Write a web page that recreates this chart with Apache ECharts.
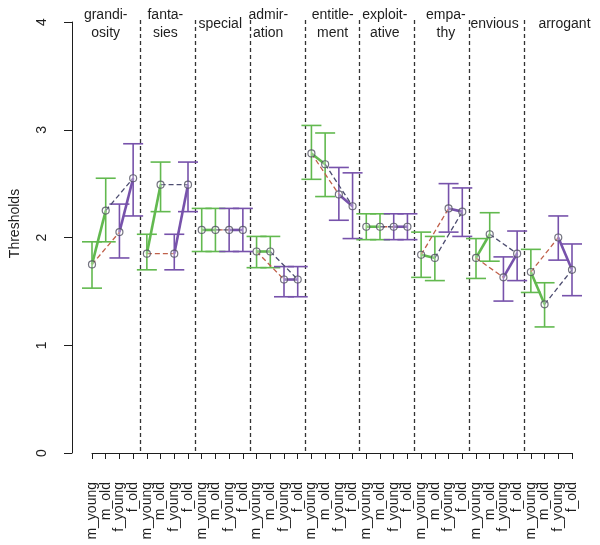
<!DOCTYPE html>
<html>
<head>
<meta charset="utf-8">
<script src="https://cdn.jsdelivr.net/npm/echarts@6/dist/echarts.min.js"></script>
<style>
  html, body { margin: 0; padding: 0; background: #fff; }
  #chart { width: 600px; height: 545px; }
</style>
</head>
<body>
<div id="chart"></div>
<script>
// panels (items) and conditions inside each panel
const groupLabels = ["grandi-\nosity", "fanta-\nsies", "special", "admir-\nation", "entitle-\nment", "exploit-\native", "empa-\nthy", "envious", "arrogant"]
const conditions = ["m_young", "m_old", "f_young", "f_old"]
const yTicks = [0, 1, 2, 3, 4]

// threshold estimates
const mYoung = [1.75, 1.85, 2.07, 1.87, 2.78, 2.10, 1.84, 1.81, 1.68]
const mOld = [2.25, 2.49, 2.07, 1.87, 2.68, 2.10, 1.81, 2.03, 1.38]
const fYoung = [2.05, 1.85, 2.07, 1.61, 2.40, 2.10, 2.27, 1.63, 2.00]
const fOld = [2.55, 2.49, 2.07, 1.61, 2.29, 2.10, 2.24, 1.85, 1.70]

// error bar limits
const mYoungLo = [1.53, 1.70, 1.87, 1.72, 2.54, 1.98, 1.63, 1.62, 1.49]
const mYoungHi = [1.96, 2.03, 2.27, 2.01, 3.04, 2.22, 2.05, 1.99, 1.89]
const mOldLo = [1.96, 2.24, 1.87, 1.72, 2.38, 1.98, 1.60, 1.78, 1.17]
const mOldHi = [2.55, 2.70, 2.27, 2.01, 2.97, 2.22, 2.01, 2.23, 1.58]
const fYoungLo = [1.81, 1.70, 1.87, 1.45, 2.16, 1.98, 2.05, 1.41, 1.79]
const fYoungHi = [2.31, 2.03, 2.27, 1.73, 2.65, 2.22, 2.50, 1.82, 2.20]
const fOldLo = [2.20, 2.24, 1.87, 1.45, 1.99, 1.98, 2.01, 1.60, 1.46]
const fOldHi = [2.87, 2.70, 2.27, 1.73, 2.60, 2.22, 2.46, 2.06, 1.94]

// small horizontal shifts of the panel titles (in category units)
const labelNudge = [-0.5, -0.15, -0.15, -0.65, 0.05, -0.15, 0.3, -0.15, 0.95]

const GREEN = "#62b94f"
const PURPLE = "#7752ab"
const RED = "#c0604a"
const DARK = "#4c4c70"
const INK = "#1e1e1e"

const categories = groupLabels.flatMap(() => conditions)
const values = [mYoung, mOld, fYoung, fOld]
const lows = [mYoungLo, mOldLo, fYoungLo, fOldLo]
const highs = [mYoungHi, mOldHi, fYoungHi, fOldHi]
const idx = (g, c) => g * 4 + c

const errorData = []
const pointData = []
groupLabels.forEach((_, g) => {
  conditions.forEach((_, c) => {
    errorData.push([idx(g, c), lows[c][g], highs[c][g], c < 2 ? 0 : 1])
    pointData.push([idx(g, c), values[c][g]])
  })
})

const segments = (ca, cb) =>
  groupLabels.map((_, g) => [idx(g, ca), values[ca][g], idx(g, cb), values[cb][g]])

const segmentSeries = (data, color, width, dashed, z) => ({
  type: "custom",
  clip: false,
  z: z,
  encode: { x: [0, 2], y: [1, 3] },
  data: data,
  renderItem: (params, api) => {
    const a = api.coord([api.value(0), api.value(1)])
    const b = api.coord([api.value(2), api.value(3)])
    return {
      type: "line",
      shape: { x1: a[0], y1: a[1], x2: b[0], y2: b[1] },
      style: { stroke: color, lineWidth: width, lineDash: dashed ? [5, 3] : null },
    }
  },
})

const chart = echarts.init(document.getElementById("chart"))

const option = {
  backgroundColor: "#fff",
  animation: false,
  grid: { left: 89, right: 28, top: 22, bottom: 92 },
  xAxis: {
    type: "category",
    data: categories,
    boundaryGap: false,
    offset: 19,
    axisLine: { lineStyle: { color: INK, width: 1 } },
    axisTick: { length: 6, interval: 0, lineStyle: { color: INK } },
    axisLabel: {
      rotate: 90,
      interval: 0,
      margin: 10,
      fontFamily: "Liberation Sans",
      fontSize: 14,
      color: INK,
    },
    splitLine: { show: false },
  },
  yAxis: {
    type: "value",
    min: yTicks[0],
    max: yTicks[yTicks.length - 1],
    interval: 1,
    offset: 20,
    name: "Thresholds",
    nameLocation: "middle",
    nameGap: 50,
    nameTextStyle: {
      fontFamily: "Liberation Sans",
      fontSize: 14,
      color: INK,
      padding: [0, 0, 0, 28],
    },
    axisLine: { show: true, lineStyle: { color: INK } },
    axisTick: { show: true, length: 8, lineStyle: { color: INK } },
    axisLabel: {
      rotate: 90,
      margin: 23,
      fontFamily: "Liberation Sans",
      fontSize: 14,
      color: INK,
    },
    splitLine: { show: false },
  },
  series: [
    // dashed panel separators
    {
      type: "custom",
      clip: false,
      z: 1,
      data: groupLabels.slice(1).map((_, i) => [idx(i + 1, 0) - 1, idx(i + 1, 0)]),
      encode: { x: [0, 1] },
      renderItem: (params, api) => {
        const a = api.coord([api.value(0), 4])
        const b = api.coord([api.value(1), 0])
        const x = Math.round((a[0] + b[0]) / 2) + 0.5
        return {
          type: "line",
          shape: { x1: x, y1: a[1] - 2, x2: x, y2: b[1] },
          style: { stroke: "#333", lineWidth: 1.3, lineDash: [4, 3] },
        }
      },
    },
    // panel titles
    {
      type: "custom",
      clip: false,
      z: 2,
      data: groupLabels.map((label, g) => [idx(g, 1), idx(g, 2), label, labelNudge[g]]),
      encode: { x: [0, 1] },
      renderItem: (params, api) => {
        const a = api.coord([api.value(0), 4])
        const b = api.coord([api.value(1), 4])
        const step = b[0] - a[0]
        return {
          type: "text",
          style: {
            text: groupLabels[params.dataIndex],
            x: (a[0] + b[0]) / 2 + labelNudge[params.dataIndex] * step,
            y: a[1] + 2,
            align: "center",
            verticalAlign: "middle",
            fontFamily: "Liberation Sans",
            fontSize: 14,
            lineHeight: 18,
            fill: INK,
          },
        }
      },
    },
    // error bars
    {
      type: "custom",
      clip: false,
      z: 3,
      data: errorData,
      encode: { x: 0, y: [1, 2] },
      renderItem: (params, api) => {
        const lo = api.coord([api.value(0), api.value(1)])
        const hi = api.coord([api.value(0), api.value(2)])
        const color = api.value(3) === 0 ? GREEN : PURPLE
        const w = 10
        const style = { stroke: color, lineWidth: 1.6 }
        return {
          type: "group",
          children: [
            { type: "line", shape: { x1: lo[0], y1: lo[1], x2: hi[0], y2: hi[1] }, style },
            { type: "line", shape: { x1: lo[0] - w, y1: lo[1], x2: lo[0] + w, y2: lo[1] }, style },
            { type: "line", shape: { x1: hi[0] - w, y1: hi[1], x2: hi[0] + w, y2: hi[1] }, style },
          ],
        }
      },
    },
    segmentSeries(segments(0, 2), RED, 1.3, true, 4),
    segmentSeries(segments(1, 3), DARK, 1.3, true, 4),
    segmentSeries(segments(0, 1), GREEN, 2.6, false, 5),
    segmentSeries(segments(2, 3), PURPLE, 2.6, false, 5),
    {
      type: "scatter",
      z: 6,
      data: pointData,
      symbol: "circle",
      symbolSize: 7,
      itemStyle: { color: "rgba(255,255,255,0.35)", borderColor: "#505060", borderWidth: 1.2 },
    },
  ],
}

chart.setOption(option)
</script>
</body>
</html>
